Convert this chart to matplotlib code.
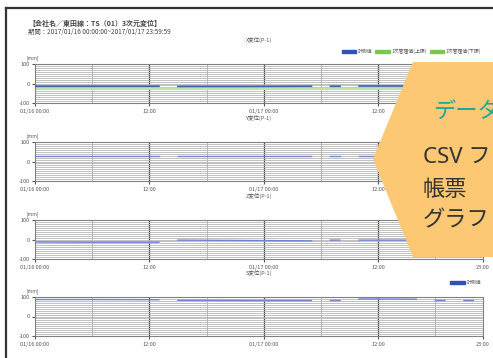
#!/usr/bin/env python
# 3-axis displacement report (TS01), four stacked panels + orange callout
import numpy as np
import matplotlib
matplotlib.use("Agg")
import matplotlib.pyplot as plt
from matplotlib.lines import Line2D
from matplotlib.patches import Polygon, Patch

plt.rcParams['font.family'] = ['Noto Sans CJK JP', 'DejaVu Sans']

nan = np.nan
W, H = 493, 358

# ---- data (hours from 01/16 00:00, NaN = no data) ----
hours = [0, 6, 13, nan, 15, 22, 29, nan, 31, 32, nan, 34, 40, nan, 42, 43, nan, 45, 46]
x_disp = [-14, -14, -14, nan, -15, -15, -14, nan, -14, -14, nan, -13, -13, nan, -13, -13, nan, -13, -13]
y_disp = [26, 26, 26, nan, 26, 26, 26, nan, 26, 26, nan, 26, 26, nan, 26, 26, nan, 26, 26]
z_disp = [-13, -14, -14, nan, -3, -5, -7, nan, -3, -3, nan, -3, -3, nan, -3, -3, nan, -3, -3]
s_disp = [87, 87, 86, nan, 83, 82, 82, nan, 82, 82, nan, 90, 89, nan, 82, 82, nan, 82, 82]
lim_hours = [0, 47]
lim_upper = [-22, -22]
lim_lower = [-27, -27]

panel_titles = ['X変位(P-1)', 'Y変位(P-1)', 'Z変位(P-1)', 'S変位(P-1)']
xtick_pos = [0, 12, 24, 36, 47]
xtick_labels = ['01/16 00:00', '12:00', '01/17 00:00', '12:00', '23:00']

fig = plt.figure(figsize=(W / 100, H / 100), dpi=100)
fig.patch.set_facecolor('white')

def fx(px):
    return px / W

def fy(py):
    return 1 - py / H

# photo frame (dark border on top / left)
fig.add_artist(Line2D([fx(6), fx(6)], [fy(8), 0], color='#333333', lw=1.6))
fig.add_artist(Line2D([fx(6), 1], [fy(8), fy(8)], color='#333333', lw=1.6))

fig.text(fx(28), fy(23), '【会社名／東田線：TS（01）3次元変位】', fontsize=5,
         color='#444444', va='center', fontweight='bold')
fig.text(fx(28), fy(32), '期間：2017/01/16 00:00:00~2017/01/17 23:59:59', fontsize=4.6,
         color='#444444', va='center')

tops = [64, 142, 220, 297]
series = [x_disp, y_disp, z_disp, s_disp]
axes = []
for i, (top, vals) in enumerate(zip(tops, series)):
    ax = fig.add_axes([fx(35), fy(top + 39), fx(448), 39 / H])
    ax.set_xlim(0, 47)
    ax.set_ylim(-100, 100)
    ax.set_yticks([-100, 0, 100])
    ax.set_yticklabels(['-100', '0', '100'])
    ax.set_yticks(np.arange(-90, 100, 10), minor=True)
    ax.set_xticks(xtick_pos)
    ax.set_xticklabels(xtick_labels)
    ax.set_xticks([6, 18, 30, 42], minor=True)
    ax.grid(axis='y', which='both', color='#b5b5b5', lw=0.6)
    ax.grid(axis='x', which='minor', color='#a8a8a8', lw=0.6)
    for h in [12, 24, 36]:
        ax.axvline(h, color='#444444', lw=0.9, zorder=1)
    ax.tick_params(labelsize=4, length=2, pad=2, colors='#555555', which='major')
    ax.tick_params(length=0, which='minor')
    for sp in ax.spines.values():
        sp.set_color('#808080')
        sp.set_linewidth(0.8)

    if i == 0:
        ax.plot(lim_hours, lim_upper, color='#b5db98', lw=1.3, zorder=2)
        ax.plot(lim_hours, lim_lower, color='#c3e2ab', lw=1.3, zorder=2)
        ax.plot(hours, vals, color='#3b5fc0', lw=1.2, zorder=3)
    else:
        ax.plot(hours, vals, color='#6f84d4', lw=1.0, zorder=3)

    ax.text(0.5, 1 + 24 / 39, panel_titles[i], transform=ax.transAxes,
            fontsize=4, color='#555555', ha='center', va='center')
    ax.text(-0.005, 1 + 6 / 39, '[mm]', transform=ax.transAxes,
            fontsize=3.5, color='#555555', ha='center', va='center')
    axes.append(ax)

# legends
h_meas = Patch(color='#2f52b8', label='計測値')
h_up = Patch(color='#7cc84e', label='1次管理値(上限)')
h_lo = Patch(color='#7cc84e', label='1次管理値(下限)')
axes[0].legend(handles=[h_meas, h_up, h_lo], ncol=3, loc='lower right',
               bbox_to_anchor=(1.0, 1.2), fontsize=3.5, frameon=False,
               handlelength=3, handleheight=0.6, handletextpad=0.3,
               columnspacing=0.6, borderaxespad=0, labelcolor='#555555')
axes[3].legend(handles=[h_meas], loc='lower right', bbox_to_anchor=(1.0, 1.25),
               fontsize=3.5, frameon=False, handlelength=3, handleheight=0.6,
               handletextpad=0.3, borderaxespad=0, labelcolor='#555555')

# orange callout hexagon (runs off the right edge, as in the photo)
hexagon = [(373, 159), (413, 62), (500, 62), (500, 257), (413, 257)]
fig.add_artist(Polygon([(fx(a), fy(b)) for a, b in hexagon], closed=True,
                       facecolor='#fcc874', edgecolor='none', zorder=5,
                       transform=fig.transFigure))
callout_font = ['Noto Sans', 'Noto Sans CJK JP']
fig.text(fx(433), fy(112), 'データ', fontsize=16, color='#1aa79c', va='center',
         zorder=6, family=callout_font)
fig.text(fx(423), fy(158), 'CSV ファイル', fontsize=16, color='#333333', va='center',
         zorder=6, family=callout_font)
fig.text(fx(423), fy(190), '帳票', fontsize=16, color='#333333', va='center',
         zorder=6, family=callout_font)
fig.text(fx(423), fy(221), 'グラフ', fontsize=16, color='#333333', va='center',
         zorder=6, family=callout_font)

fig.savefig('out.png', dpi=100)
